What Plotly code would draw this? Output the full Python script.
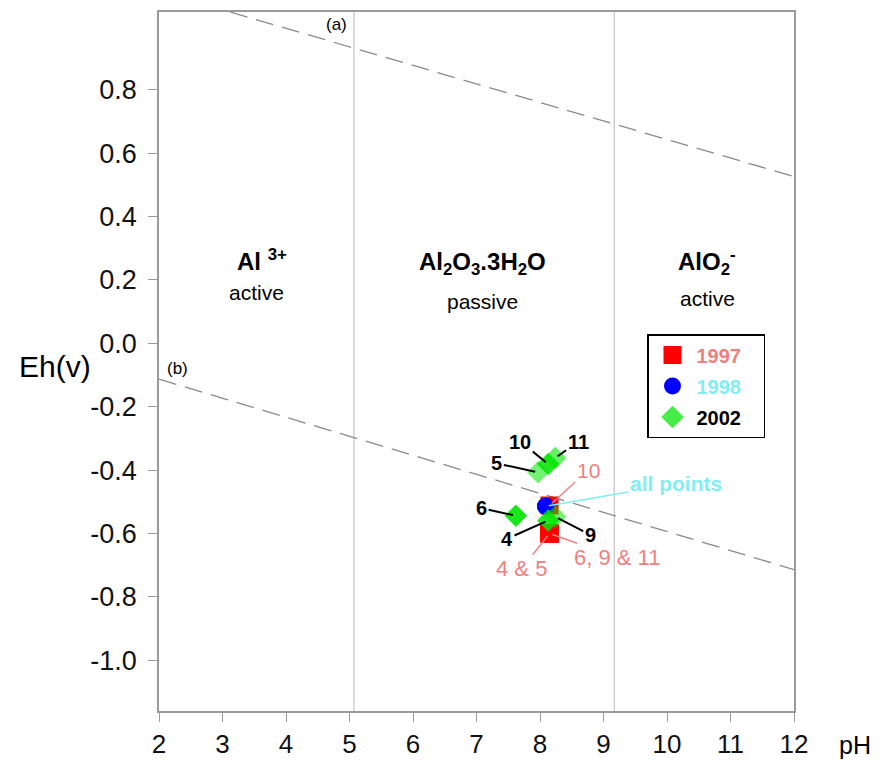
import plotly.graph_objects as go

FONT = "Arial, Liberation Sans, sans-serif"

# ---- data -------------------------------------------------------------
samples = ["4", "5", "6", "9", "10", "11"]
ph_1997 = [8.15, 8.15, 8.15, 8.15, 8.15, 8.15]
eh_1997 = [-0.600, -0.600, -0.600, -0.600, -0.512, -0.600]
ph_1998 = [8.09, 8.09, 8.09, 8.09, 8.09, 8.09]
eh_1998 = [-0.514, -0.514, -0.514, -0.514, -0.514, -0.514]
ph_2002 = [8.13, 7.97, 7.62, 8.24, 8.13, 8.24]
eh_2002 = [-0.559, -0.407, -0.544, -0.547, -0.381, -0.362]
op_2002 = [0.85, 0.55, 0.9, 0.55, 0.85, 0.6]

# water stability lines (a) and (b): end points
ph_line_a = [3.12, 12.0]
eh_line_a = [1.045, 0.526]
ph_line_b = [2.0, 12.0]
eh_line_b = [-0.113, -0.714]

# domain boundaries (pH)
boundary_ph = [5.07, 9.17]

x_ticks = [2, 3, 4, 5, 6, 7, 8, 9, 10, 11, 12]
y_ticks = [-1.0, -0.8, -0.6, -0.4, -0.2, 0.0, 0.2, 0.4, 0.6, 0.8]
y_ticktext = [f"{v:.1f}" for v in y_ticks]

X_RANGE = [2, 12]
Y_RANGE = [-1.16, 1.045]

# ---- figure -------------------------------------------------------------
fig = go.Figure()

for bx in boundary_ph:
    fig.add_trace(go.Scatter(x=[bx, bx], y=Y_RANGE, mode="lines",
                             line=dict(color="#c8c8c8", width=1.3),
                             showlegend=False, hoverinfo="skip"))

for xs, ys in ((ph_line_a, eh_line_a), (ph_line_b, eh_line_b)):
    fig.add_trace(go.Scatter(x=xs, y=ys, mode="lines",
                             line=dict(color="#8a8a8a", width=1.3, dash="18px,9px"),
                             showlegend=False, hoverinfo="skip"))

SALMON = "#f08080"
CYAN = "#80eef2"
PAD = "&nbsp;&nbsp;&nbsp;"

fig.add_trace(go.Scatter(
    x=ph_1997, y=eh_1997, mode="markers", text=samples,
    name=f"<span style='color:{SALMON}'>1997</span>{PAD}", legendgroup="a",
    marker=dict(symbol="square", size=15, color="#ff0000",
                line=dict(width=3, color="#ff0000"))))
fig.add_trace(go.Scatter(
    x=ph_1998, y=eh_1998, mode="markers", text=samples,
    name=f"<span style='color:{CYAN}'>1998</span>{PAD}", legendgroup="b",
    marker=dict(symbol="circle", size=14, color="#0000ff",
                line=dict(width=3, color="#0000ff"))))
fig.add_trace(go.Scatter(
    x=ph_2002, y=eh_2002, mode="markers", text=samples,
    name=f"<span style='color:#000000'>2002</span>{PAD}", legendgroup="c",
    marker=dict(symbol="diamond", size=14, color="#00e600", opacity=op_2002,
                line=dict(width=3, color="#00e600"))))

annotations = []

def label(text, tx, ty, px, py, color, size, bold, width):
    t = f"<b>{text}</b>" if bold else text
    annotations.append(dict(
        x=px, y=py, ax=tx, ay=ty, xref="x", yref="y", axref="x", ayref="y",
        text=t, showarrow=True, arrowhead=0, arrowwidth=width, arrowcolor=color,
        standoff=3, font=dict(family=FONT, size=size, color=color)))

idx = {s: i for i, s in enumerate(samples)}
# 2002 sample labels
black_pos = {"10": (7.69, -0.310), "11": (8.60, -0.310), "5": (7.32, -0.379),
             "6": (7.08, -0.520), "4": (7.48, -0.617), "9": (8.79, -0.604)}
for s, (tx, ty) in black_pos.items():
    i = idx[s]
    label(s, tx, ty, ph_2002[i], eh_2002[i], "#000000", 20, True, 2)

# 1997 sample labels
label("10", 8.76, -0.400, ph_1997[idx["10"]], eh_1997[idx["10"]], SALMON, 21, False, 1.5)
label("4 &amp; 5", 7.71, -0.711, ph_1997[idx["4"]], eh_1997[idx["4"]], SALMON, 22, False, 1.5)
label("6, 9 &amp; 11", 9.21, -0.675, ph_1997[idx["6"]], eh_1997[idx["6"]], SALMON, 22, False, 1.5)
# 1998
label("all points", 10.14, -0.443, ph_1998[0], eh_1998[0], CYAN, 21, True, 1.5)

def text(t, x, y, size, bold=False, xref="x", yref="y", xanchor="center"):
    annotations.append(dict(x=x, y=y, xref=xref, yref=yref, text=f"<b>{t}</b>" if bold else t,
                            showarrow=False, xanchor=xanchor,
                            font=dict(family=FONT, size=size, color="#000000")))

text("Al <sup>3+</sup>", 3.62, 0.262, 24, True)
text("active", 3.53, 0.160, 21)
text("Al<sub>2</sub>O<sub>3</sub>.3H<sub>2</sub>O", 7.10, 0.252, 24, True)
text("passive", 7.10, 0.133, 21)
text("AlO<sub>2</sub><sup>-</sup>", 10.63, 0.255, 24, True)
text("active", 10.63, 0.142, 21)
text("(a)", 4.80, 1.005, 17)
text("(b)", 2.29, -0.081, 17)

# The page body adds an 8px offset; the figure is sized/margined so the
# plot area lands where the reference has it.
OFF = 8
W, H = 880 - OFF, 769 - OFF
ML, MR, MT, MB = 159 - OFF, 86, 10 - OFF, 58
pw, ph = W - ML - MR, H - MT - MB

def paper_text(t, px, py, size, xanchor):
    annotations.append(dict(x=(px - OFF - ML) / pw, y=(H - MB - (py - OFF)) / ph,
                            xref="paper", yref="paper", text=t, showarrow=False,
                            xanchor=xanchor, yanchor="middle",
                            font=dict(family=FONT, size=size, color="#000000")))

paper_text("Eh(v)", 17, 366, 30, "left")
paper_text("pH", 855, 745, 25, "center")

axis_common = dict(showgrid=False, zeroline=False, showline=True, linecolor="#9a9a9a",
                   linewidth=1.5, mirror=True, ticks="outside", ticklen=9,
                   tickcolor="#9a9a9a", tickwidth=1.2)

fig.update_layout(
    width=W, height=H,
    margin=dict(l=ML, r=MR, t=MT, b=MB),
    plot_bgcolor="white", paper_bgcolor="white",
    font=dict(family=FONT, color="#111111"),
    xaxis=dict(range=X_RANGE, tickvals=x_ticks, tickfont=dict(size=26), **axis_common),
    yaxis=dict(range=Y_RANGE, tickvals=y_ticks, ticktext=y_ticktext,
               tickfont=dict(size=27), ticklabelstandoff=6, **axis_common),
    legend=dict(x=(647 - OFF - ML) / pw, y=(H - MB - (333 - OFF)) / ph,
                xanchor="left", yanchor="top",
                bordercolor="#000000", borderwidth=1.5, bgcolor="white",
                font=dict(family=FONT, size=20, weight="bold"),
                itemwidth=38, tracegroupgap=2, traceorder="grouped"),
    annotations=annotations,
    showlegend=True,
)

fig.write_html("out.html")
